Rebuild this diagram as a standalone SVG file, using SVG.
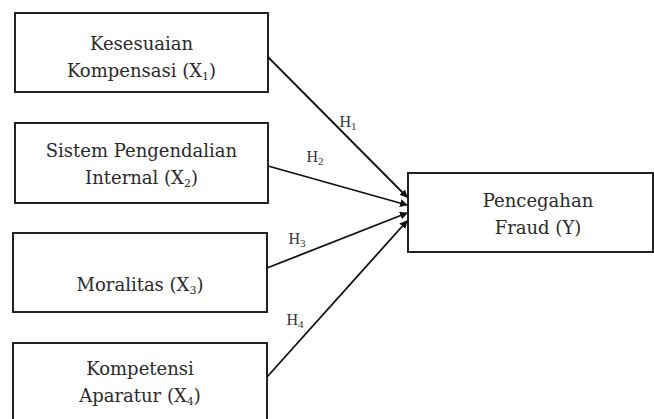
<svg xmlns="http://www.w3.org/2000/svg" width="654" height="419" viewBox="0 0 654 419">
<style>
.box{fill:#fff;stroke:#222;stroke-width:2}
.t{font-family:"DejaVu Serif","Liberation Serif",serif;font-size:18px;fill:#2a2a2a;text-anchor:middle}
.h{font-family:"Liberation Serif",serif;font-size:16px;fill:#333;text-anchor:middle}
.sub{font-size:11px}
.c{stroke:#111;stroke-width:1.8;fill:none;marker-end:url(#ah)}
</style>
<defs>
<marker id="ah" markerWidth="8" markerHeight="8" refX="7" refY="4" orient="auto" markerUnits="userSpaceOnUse">
<path d="M0,0 L8,4 L0,8 Z" fill="#111"/>
</marker>
</defs>
<g id="x1">
<rect class="box" x="15" y="13" width="253" height="79"/>
<text class="t" x="141.5" y="50">Kesesuaian</text>
<text class="t" x="141.5" y="77">Kompensasi (X<tspan class="sub" dy="3">1</tspan><tspan dy="-3">)</tspan></text>
</g>
<g id="x2">
<rect class="box" x="15" y="123" width="253" height="80"/>
<text class="t" x="141.5" y="157">Sistem Pengendalian</text>
<text class="t" x="141.5" y="184">Internal (X<tspan class="sub" dy="3">2</tspan><tspan dy="-3">)</tspan></text>
</g>
<g id="x3">
<rect class="box" x="13" y="233" width="254" height="79"/>
<text class="t" x="140" y="291">Moralitas (X<tspan class="sub" dy="3">3</tspan><tspan dy="-3">)</tspan></text>
</g>
<g id="x4">
<rect class="box" x="13" y="343" width="254" height="90"/>
<text class="t" x="140" y="375">Kompetensi</text>
<text class="t" x="140" y="402">Aparatur (X<tspan class="sub" dy="3">4</tspan><tspan dy="-3">)</tspan></text>
</g>
<g id="y">
<rect class="box" x="408" y="173" width="245" height="79"/>
<text class="t" x="538" y="207">Pencegahan</text>
<text class="t" x="538" y="234">Fraud (Y)</text>
</g>
<g id="connectors">
<line class="c" x1="268" y1="57" x2="407" y2="197"/>
<line class="c" x1="268" y1="166" x2="407" y2="205"/>
<line class="c" x1="267" y1="268" x2="407" y2="213"/>
<line class="c" x1="267" y1="377" x2="407" y2="221"/>
<text class="h" x="348" y="127">H<tspan class="sub" dy="3">1</tspan></text>
<text class="h" x="315" y="162">H<tspan class="sub" dy="3">2</tspan></text>
<text class="h" x="297" y="244">H<tspan class="sub" dy="3">3</tspan></text>
<text class="h" x="295" y="325">H<tspan class="sub" dy="3">4</tspan></text>
</g>
</svg>
